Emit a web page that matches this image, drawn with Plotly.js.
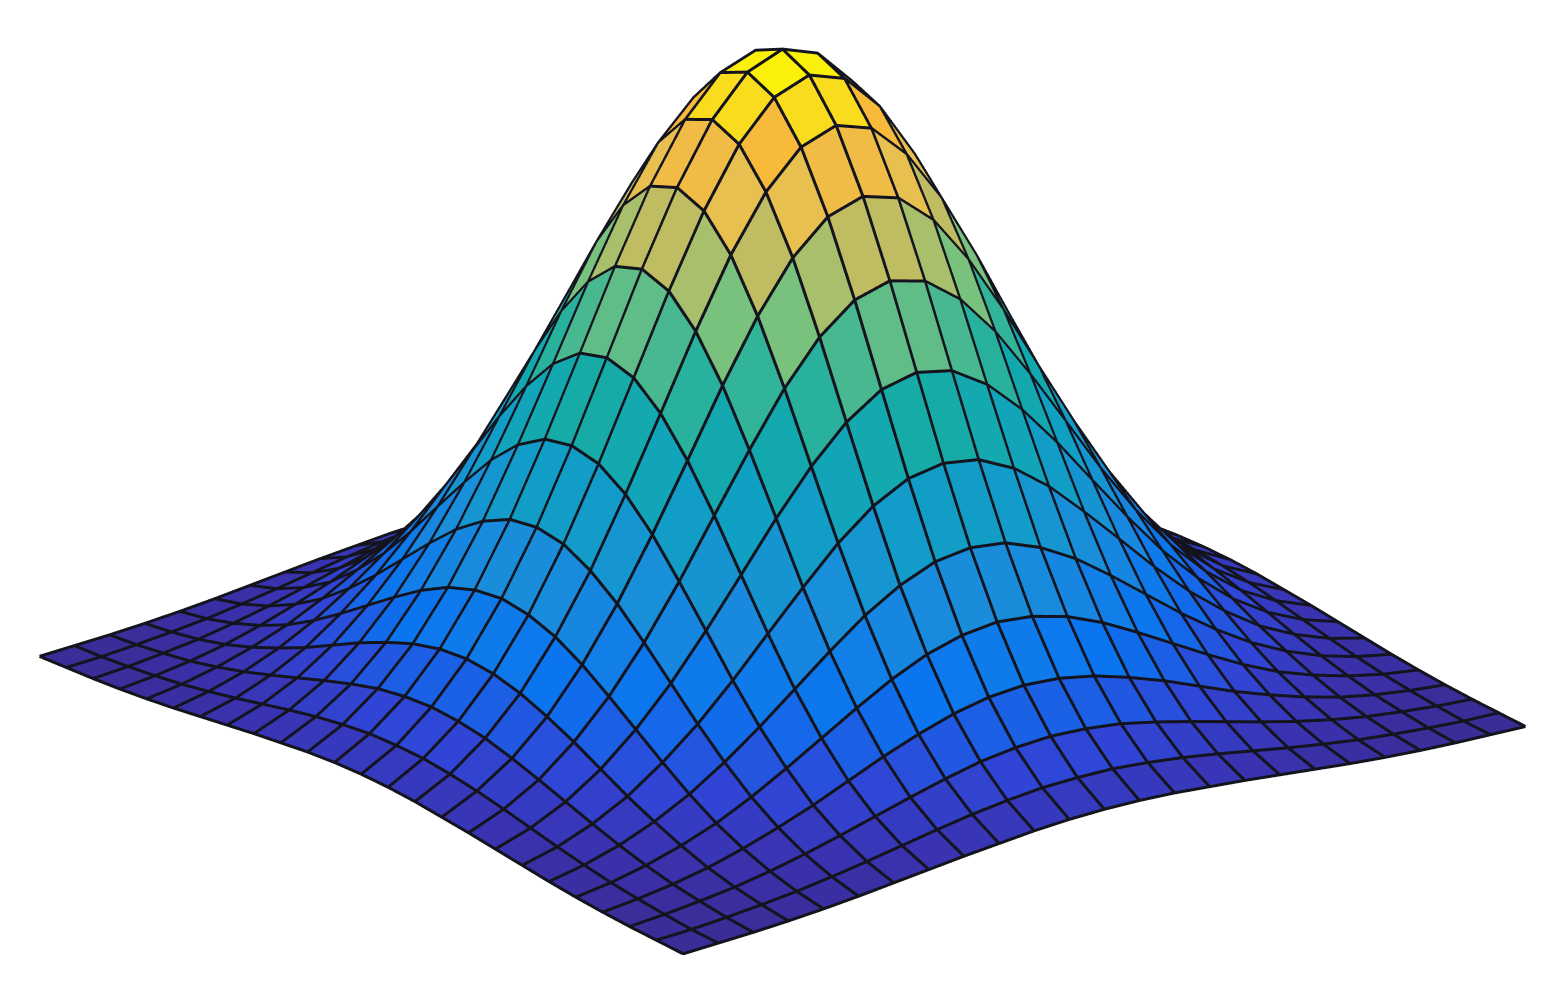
<!DOCTYPE html>
<html><head><meta charset="utf-8">
<script src="https://cdn.plot.ly/plotly-3.0.1.min.js"></script>
<style>html,body{margin:0;padding:0;background:#fff;width:1561px;height:984px;overflow:hidden}#w{position:absolute;left:0;top:0;width:1561px;height:984px;overflow:hidden}#c{position:absolute;left:2px;top:-247px;width:1561px;height:1232px}</style></head>
<body><div id="w"><div id="c"></div></div>
<script>
const gridX=[-12,-11,-10,-9,-8,-7,-6,-5,-4,-3,-2,-1,0,1,2,3,4,5,6,7,8,9,10,11,12];
const gridY=[-12,-11,-10,-9,-8,-7,-6,-5,-4,-3,-2,-1,0,1,2,3,4,5,6,7,8,9,10,11,12];
const heights=[
[.002,.004,.006,.009,.013,.018,.024,.030,.036,.041,.046,.049,.050,.049,.046,.041,.036,.030,.024,.018,.013,.009,.006,.004,.002],
[.004,.006,.010,.015,.021,.029,.038,.048,.058,.067,.074,.079,.080,.079,.074,.067,.058,.048,.038,.029,.021,.015,.010,.006,.004],
[.006,.010,.016,.023,.033,.045,.059,.074,.089,.103,.115,.122,.125,.122,.115,.103,.089,.074,.059,.045,.033,.023,.016,.010,.006],
[.009,.015,.023,.034,.049,.067,.087,.110,.133,.153,.170,.181,.185,.181,.170,.153,.133,.110,.087,.067,.049,.034,.023,.015,.009],
[.013,.021,.033,.049,.069,.095,.125,.157,.189,.219,.243,.258,.264,.258,.243,.219,.189,.157,.125,.095,.069,.049,.033,.021,.013],
[.018,.029,.045,.067,.095,.130,.170,.214,.258,.299,.331,.353,.360,.353,.331,.299,.258,.214,.170,.130,.095,.067,.045,.029,.018],
[.024,.038,.059,.087,.125,.170,.223,.281,.338,.392,.435,.463,.472,.463,.435,.392,.338,.281,.223,.170,.125,.087,.059,.038,.024],
[.030,.048,.074,.110,.157,.214,.281,.353,.426,.492,.546,.582,.594,.582,.546,.492,.426,.353,.281,.214,.157,.110,.074,.048,.030],
[.036,.058,.089,.133,.189,.258,.338,.426,.513,.594,.659,.702,.717,.702,.659,.594,.513,.426,.338,.258,.189,.133,.089,.058,.036],
[.041,.067,.103,.153,.219,.299,.392,.492,.594,.687,.763,.812,.829,.812,.763,.687,.594,.492,.392,.299,.219,.153,.103,.067,.041],
[.046,.074,.115,.170,.243,.331,.435,.546,.659,.763,.846,.901,.920,.901,.846,.763,.659,.546,.435,.331,.243,.170,.115,.074,.046],
[.049,.079,.122,.181,.258,.353,.463,.582,.702,.812,.901,.959,.979,.959,.901,.812,.702,.582,.463,.353,.258,.181,.122,.079,.049],
[.050,.080,.125,.185,.264,.360,.472,.594,.717,.829,.920,.979,1.00,.979,.920,.829,.717,.594,.472,.360,.264,.185,.125,.080,.050],
[.049,.079,.122,.181,.258,.353,.463,.582,.702,.812,.901,.959,.979,.959,.901,.812,.702,.582,.463,.353,.258,.181,.122,.079,.049],
[.046,.074,.115,.170,.243,.331,.435,.546,.659,.763,.846,.901,.920,.901,.846,.763,.659,.546,.435,.331,.243,.170,.115,.074,.046],
[.041,.067,.103,.153,.219,.299,.392,.492,.594,.687,.763,.812,.829,.812,.763,.687,.594,.492,.392,.299,.219,.153,.103,.067,.041],
[.036,.058,.089,.133,.189,.258,.338,.426,.513,.594,.659,.702,.717,.702,.659,.594,.513,.426,.338,.258,.189,.133,.089,.058,.036],
[.030,.048,.074,.110,.157,.214,.281,.353,.426,.492,.546,.582,.594,.582,.546,.492,.426,.353,.281,.214,.157,.110,.074,.048,.030],
[.024,.038,.059,.087,.125,.170,.223,.281,.338,.392,.435,.463,.472,.463,.435,.392,.338,.281,.223,.170,.125,.087,.059,.038,.024],
[.018,.029,.045,.067,.095,.130,.170,.214,.258,.299,.331,.353,.360,.353,.331,.299,.258,.214,.170,.130,.095,.067,.045,.029,.018],
[.013,.021,.033,.049,.069,.095,.125,.157,.189,.219,.243,.258,.264,.258,.243,.219,.189,.157,.125,.095,.069,.049,.033,.021,.013],
[.009,.015,.023,.034,.049,.067,.087,.110,.133,.153,.170,.181,.185,.181,.170,.153,.133,.110,.087,.067,.049,.034,.023,.015,.009],
[.006,.010,.016,.023,.033,.045,.059,.074,.089,.103,.115,.122,.125,.122,.115,.103,.089,.074,.059,.045,.033,.023,.016,.010,.006],
[.004,.006,.010,.015,.021,.029,.038,.048,.058,.067,.074,.079,.080,.079,.074,.067,.058,.048,.038,.029,.021,.015,.010,.006,.004],
[.002,.004,.006,.009,.013,.018,.024,.030,.036,.041,.046,.049,.050,.049,.046,.041,.036,.030,.024,.018,.013,.009,.006,.004,.002]
];
const colorLevels=[0,.04,.10,.19,.30,.43,.52,.60,.68,.77,.83,.90,.94,.98,1];
const colorStops=[[58,44,148],[58,50,175],[48,70,215],[10,116,240],[26,140,220],[16,160,195],[20,170,170],[50,180,150],[125,195,125],[196,188,96],[232,192,80],[248,184,60],[250,220,30],[250,240,10],[250,245,5]];
function cmap(v){
  let k=0; while(k<colorLevels.length-2&&v>colorLevels[k+1])k++;
  const t=Math.max(0,Math.min(1,(v-colorLevels[k])/(colorLevels[k+1]-colorLevels[k])));
  const a=colorStops[k],b=colorStops[k+1];
  return `rgb(${a.map((c,n)=>Math.round(c+(b[n]-c)*t)).join(',')})`;
}
const n=gridX.length,vx=[],vy=[],vz=[],ti=[],tj=[],tk=[],fc=[];
for(let r=0;r<n;r++)for(let c=0;c<n;c++){vx.push(gridX[c]);vy.push(gridY[r]);vz.push(heights[r][c]);}
for(let r=0;r<n-1;r++)for(let c=0;c<n-1;c++){
  const a=r*n+c,b=a+1,d=a+n,e=d+1;
  const col=cmap((heights[r][c]+heights[r][c+1]+heights[r+1][c]+heights[r+1][c+1])/4);
  ti.push(a,a);tj.push(b,e);tk.push(e,d);fc.push(col,col);
}
const lx=[],ly=[],lz=[];
for(let r=0;r<n;r++){for(let c=0;c<n;c++){lx.push(gridX[c]);ly.push(gridY[r]);lz.push(heights[r][c]+.002);}lx.push(null);ly.push(null);lz.push(null);}
for(let c=0;c<n;c++){for(let r=0;r<n;r++){lx.push(gridX[c]);ly.push(gridY[r]);lz.push(heights[r][c]+.002);}lx.push(null);ly.push(null);lz.push(null);}
const hidden={visible:false,showgrid:false,zeroline:false,showticklabels:false,title:{text:''}};
Plotly.newPlot('c',[
 {type:'mesh3d',x:vx,y:vy,z:vz,i:ti,j:tj,k:tk,facecolor:fc,flatshading:true,
  lighting:{ambient:1,diffuse:0,specular:0,roughness:1,fresnel:0},hoverinfo:'skip',showscale:false},
 {type:'scatter3d',mode:'lines',x:lx,y:ly,z:lz,connectgaps:false,line:{color:'#14141e',width:6},hoverinfo:'skip',showlegend:false}
],{
 width:1561,height:1232,margin:{l:0,r:0,t:0,b:0},paper_bgcolor:'#fff',showlegend:false,
 scene:{domain:{x:[0,1],y:[0,1]},bgcolor:'#fff',
  xaxis:{...hidden,range:[-12,12]},yaxis:{...hidden,range:[-12,12]},zaxis:{...hidden,range:[0,1.01]},
  aspectmode:'manual',aspectratio:{x:1.721,y:1.721,z:1.128},
  camera:{eye:{x:-2.3,y:-3.01,z:1.43},center:{x:0,y:0,z:0},up:{x:0,y:0,z:1},projection:{type:'orthographic'}}}
},{displayModeBar:false});
</script></body></html>
